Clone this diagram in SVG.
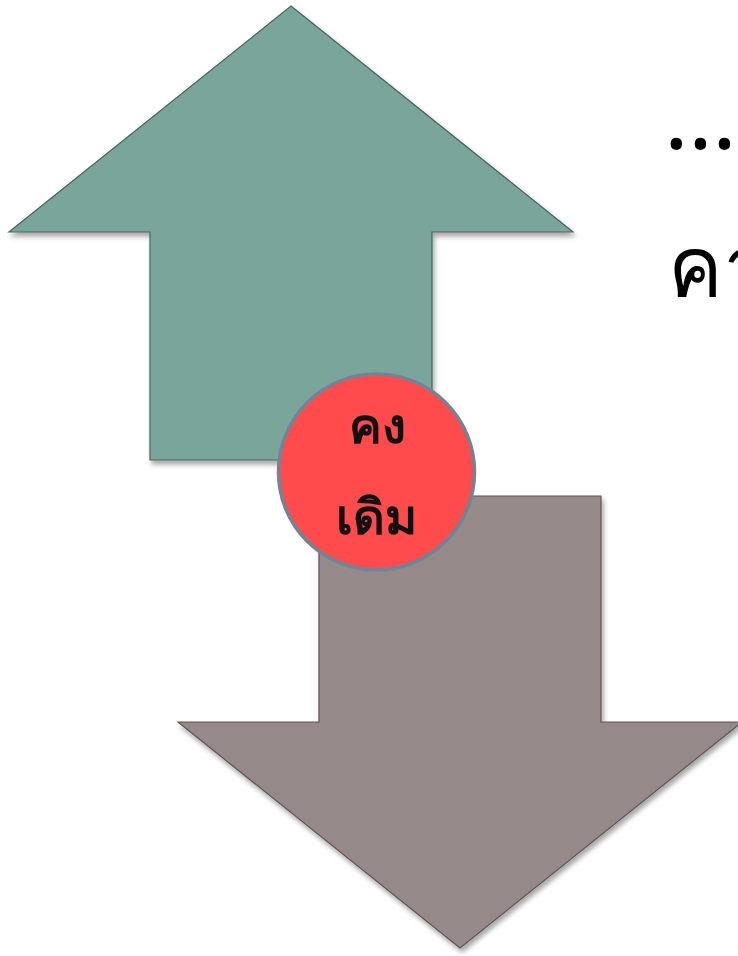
<svg xmlns="http://www.w3.org/2000/svg" width="738" height="956" viewBox="0 0 738 956">
<defs>
<filter id="sh" x="-10%" y="-10%" width="120%" height="120%">
<feDropShadow dx="2" dy="4" stdDeviation="2.5" flood-color="#000" flood-opacity="0.35"/>
</filter>
<style>
.up{fill:#7AA59A;stroke:#4A6660;stroke-width:1.2}
.down{fill:#958A89;stroke:#5E5554;stroke-width:1.2}
.circ{fill:#FF4B4B;stroke:#6E8598;stroke-width:3.5}
.lbl{font-family:"Noto Sans","DejaVu Sans",sans-serif;font-weight:bold;font-size:49px;fill:#111;text-anchor:middle}
.big{font-family:"Noto Sans","DejaVu Sans",sans-serif;font-size:82px;fill:#000}
.dots{font-family:"Noto Sans","DejaVu Sans",sans-serif;font-size:92px;fill:#000}
</style>
</defs>
<g id="arrow-up" filter="url(#sh)">
<polygon class="up" points="291,6 573,232 432,232 432,460 150,460 150,232 9,232"/>
</g>
<g id="arrow-down" filter="url(#sh)">
<polygon class="down" points="319,496 601,496 601,722 742,722 460,948 178,722 319,722"/>
</g>
<g id="circle">
<circle class="circ" cx="376.5" cy="472" r="98"/>
<text class="lbl" x="377" y="443">คง</text>
<text class="lbl" x="376" y="534">เดิม</text>
</g>
<g id="side-text">
<text class="dots" x="664" y="149">…</text>
<text class="big" x="668" y="296">คา</text>
</g>
<g id="connectors"/>
</svg>
